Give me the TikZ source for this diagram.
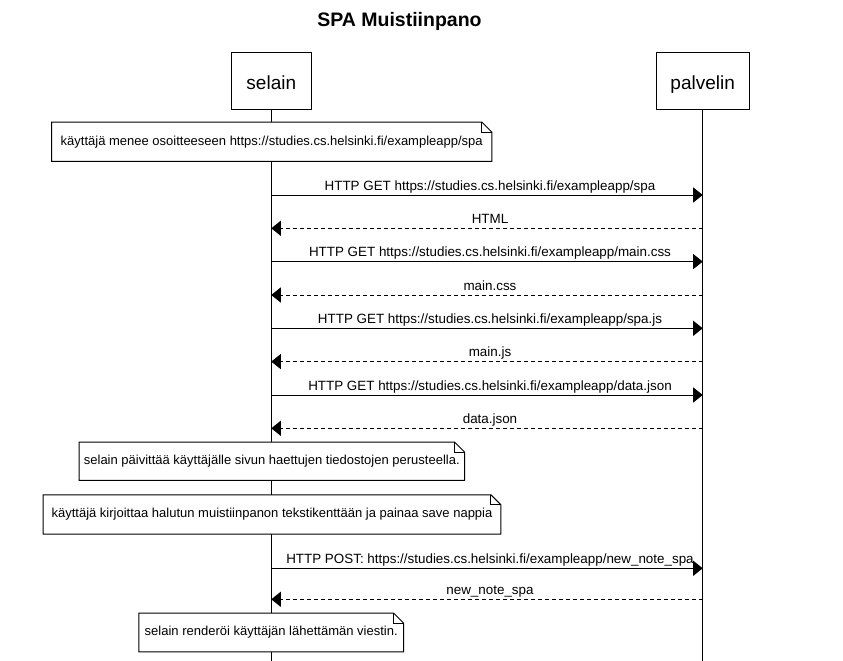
\documentclass[tikz,border=0pt]{standalone}
\usepackage{fontspec}
\setmainfont{Liberation Sans}
\usetikzlibrary{arrows.meta}
\newcommand\msgfont{\fontsize{13.4}{15}\selectfont}
\newcommand\notefont{\fontsize{13}{15}\selectfont}
\tikzset{
  actorbox/.style={draw, fill=white, line width=1pt, minimum height=57pt, inner sep=0pt},
  actortext/.style={anchor=base, inner sep=0pt, font=\fontsize{19}{22}\selectfont},
  lifeline/.style={line width=1pt},
  req/.style={line width=1pt, -{Triangle[length=9.5pt,width=15pt]}},
  resp/.style={req, dash pattern=on 4pt off 3pt},
  lbl/.style={anchor=base, yshift=5pt, xshift=3pt, inner sep=0pt, font=\msgfont},
  notebox/.style={fill=white, inner sep=0pt, font=\notefont},
  noteline/.style={line width=1pt, line join=miter},
}
\newcommand\notefold[1]{%
  \draw[noteline] (#1.south west) -- (#1.north west) -- ([xshift=-10pt]#1.north east)
    -- ([yshift=-10pt]#1.north east) -- (#1.south east) -- cycle;
  \draw[noteline] ([xshift=-10pt]#1.north east) -- ([xshift=-10pt,yshift=-10pt]#1.north east)
    -- ([yshift=-10pt]#1.north east);}
\begin{document}
\begin{tikzpicture}[x=1pt,y=-1pt]
\fill[white] (0,0) rectangle (843,661);
\useasboundingbox (0,0) rectangle (843,661);
% title
\node[anchor=base, font=\bfseries\fontsize{19.5}{22}\selectfont, inner sep=0pt] (title) at (399.5,26.5) {SPA Muistiinpano};
% lifelines
\coordinate (selend) at (271.3,661);
\coordinate (palend) at (702.7,661);
\node[actorbox, minimum width=80pt] (sel) at (271.3,80.8) {};
\node[actorbox, minimum width=93.3pt] (pal) at (702.7,80.8) {};
\node[actortext] (seltxt) at (271.3,89) {selain};
\node[actortext] (paltxt) at (702.7,89) {palvelin};
\draw[lifeline] (sel.south) -- (selend);
\draw[lifeline] (pal.south) -- (palend);
% message anchors
\foreach \i/\y in {1/195,2/228.3,3/261.6,4/295,5/328.3,6/361.6,7/395,8/428.3,9/568.3,10/599.3}{
  \coordinate (s\i) at (271.3,\y);
  \coordinate (p\i) at (702.7,\y);
}
\draw[req] (s1) -- (p1) node[midway, lbl] {HTTP GET https://studies.cs.helsinki.fi/exampleapp/spa};
\draw[resp] (p2) -- (s2) node[midway, lbl] {HTML};
\draw[req] (s3) -- (p3) node[midway, lbl] {HTTP GET https://studies.cs.helsinki.fi/exampleapp/main.css};
\draw[resp] (p4) -- (s4) node[midway, lbl] {main.css};
\draw[req] (s5) -- (p5) node[midway, lbl] {HTTP GET https://studies.cs.helsinki.fi/exampleapp/spa.js};
\draw[resp] (p6) -- (s6) node[midway, lbl] {main.js};
\draw[req] (s7) -- (p7) node[midway, lbl] {HTTP GET https://studies.cs.helsinki.fi/exampleapp/data.json};
\draw[resp] (p8) -- (s8) node[midway, lbl] {data.json};
\draw[req] (s9) -- (p9) node[midway, lbl] {HTTP POST: https://studies.cs.helsinki.fi/exampleapp/new\_note\_spa};
\draw[resp] (p10) -- (s10) node[midway, lbl] {new\_note\_spa};
% notes
\node[notebox, minimum width=440pt, minimum height=38.7pt] (n1) at (271.7,141.7) {käyttäjä menee osoitteeseen https://studies.cs.helsinki.fi/exampleapp/spa};
\notefold{n1}
\node[notebox, minimum width=385pt, minimum height=38pt] (n2) at (271.8,461.2) {selain päivittää käyttäjälle sivun haettujen tiedostojen perusteella.};
\notefold{n2}
\node[notebox, minimum width=457.4pt, minimum height=39pt] (n3) at (272,514.5) {käyttäjä kirjoittaa halutun muistiinpanon tekstikenttään ja painaa save nappia};
\notefold{n3}
\node[notebox, minimum width=264.3pt, minimum height=38.5pt] (n4) at (271.2,632.5) {selain renderöi käyttäjän lähettämän viestin.};
\notefold{n4}
\end{tikzpicture}
\end{document}
